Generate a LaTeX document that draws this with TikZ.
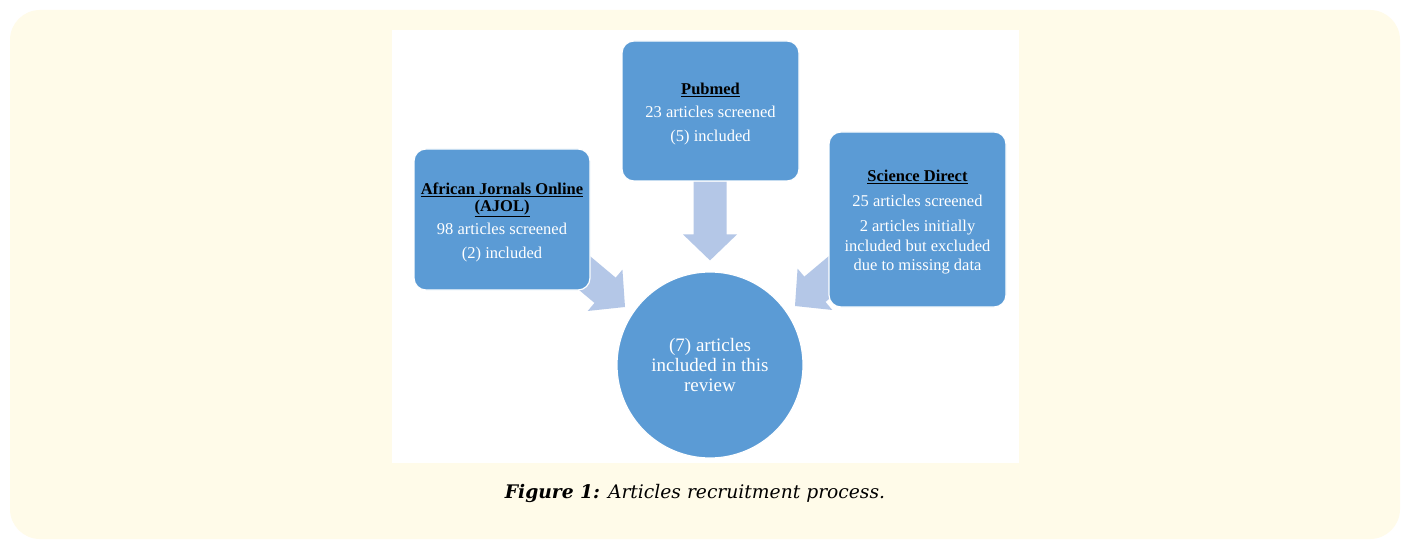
\documentclass[tikz,border=0pt]{standalone}
\usepackage{fontspec}
\setmainfont{Liberation Serif}
\newfontfamily\capfont{DejaVu Serif}
\usetikzlibrary{calc}
\definecolor{cream}{HTML}{FFFBE9}
\definecolor{boxblue}{HTML}{5B9BD5}
\definecolor{arrblue}{HTML}{B4C7E7}
\pgfdeclarelayer{back}
\pgfdeclarelayer{arrows}
\pgfsetlayers{back,arrows,main}
\newcommand{\ttl}[1]{\textcolor{black}{\bfseries\underline{#1}}}
\newcommand{\topstrut}{\rule{0pt}{17.5pt}}
\tikzset{
  srcbox/.style={rectangle, rounded corners=12pt, fill=boxblue, draw=white, line width=1.2pt,
    text=white, align=center, inner sep=0pt, font=\fontsize{16.5}{19.5}\selectfont},
  goalcircle/.style={circle, fill=boxblue, draw=white, line width=1.2pt, text=white, align=center,
    inner sep=0pt, minimum size=186pt, font=\fontsize{19}{20}\selectfont},
  bigarrow/.style={fill=arrblue, draw=none}
}
\begin{document}
\begin{tikzpicture}[x=1pt,y=-1pt]
\useasboundingbox (0,0) rectangle (1403,540);
\begin{pgfonlayer}{back}
\fill[white] (0,0) rectangle (1403,540);
\fill[cream, rounded corners=30pt] (10,10) rectangle (1400,539);
\fill[white] (392,30) rectangle (1019,463);
\end{pgfonlayer}

\node[srcbox, minimum width=176pt, minimum height=141pt] (ajol) at (502,219.5)
  {\topstrut\ttl{African Jornals Online}\\[-2.5pt]\ttl{(AJOL)}\\[3.5pt]98 articles screened\\[4.5pt](2) included};
\node[srcbox, minimum width=177pt, minimum height=140pt] (pub) at (710.5,111)
  {\topstrut\ttl{Pubmed}\\[3.5pt]23 articles screened\\[4.5pt](5) included};
\node[srcbox, minimum width=177pt, minimum height=175pt] (sd) at (917.5,219.5)
  {\topstrut\ttl{Science Direct}\\[5.5pt]25 articles screened\\[5.5pt]2 articles initially\\included but excluded\\due to missing data};
\node[goalcircle] (goal) at (710,365) {(7) articles\\included in this\\review};

\begin{pgfonlayer}{arrows}
% down arrow from Pubmed to the circle
\coordinate (tipP) at ($(goal.north)+(0,-11)$);
\begin{scope}[shift={(tipP)}, rotate=-90]
  \fill[bigarrow] (0,0) -- (-26,27) -- (-26,16.5) -- (-79,16.5) -- (-79,-16.5) -- (-26,-16.5) -- (-26,-27) -- cycle;
\end{scope}
% diagonal arrow from AJOL
\coordinate (tipA) at (625,307);
\begin{scope}[shift={(tipA)}, rotate=-40]
  \fill[bigarrow] (0,0) -- (-26,27) -- (-26,16.5) -- (-79,16.5) -- (-79,-16.5) -- (-26,-16.5) -- (-26,-27) -- cycle;
\end{scope}
% diagonal arrow from Science Direct
\coordinate (tipS) at (795,306);
\begin{scope}[shift={(tipS)}, rotate=-140]
  \fill[bigarrow] (0,0) -- (-26,27) -- (-26,16.5) -- (-79,16.5) -- (-79,-16.5) -- (-26,-16.5) -- (-26,-27) -- cycle;
\end{scope}
\end{pgfonlayer}

\node[font=\capfont\fontsize{18.7}{22}\selectfont, text=black] (cap) at (695,493)
  {\textbf{\textit{Figure 1:}} \textit{Articles recruitment process.}};
\end{tikzpicture}
\end{document}
